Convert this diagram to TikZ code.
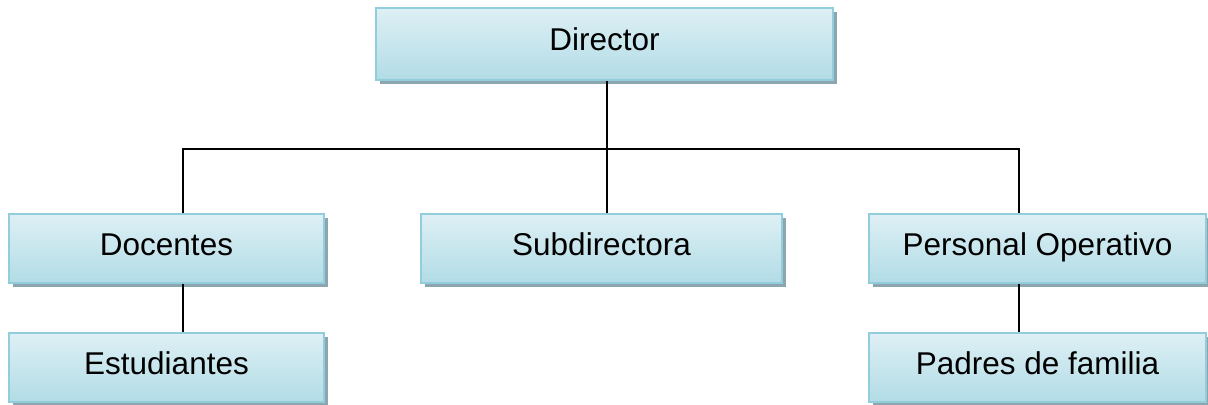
\documentclass[tikz,border=0pt]{standalone}
\usepackage{fontspec}
\setmainfont{Liberation Sans}
\usetikzlibrary{shadows}

\definecolor{boxline}{RGB}{146,205,220}
\definecolor{boxtop}{RGB}{222,240,245}
\definecolor{boxbot}{RGB}{178,220,230}
\definecolor{boxshadow}{RGB}{140,166,176}

\tikzset{
  box/.style = {shape=rectangle, draw=boxline, line width=1pt,
    top color=boxtop, bottom color=boxbot, inner sep=0pt,
    minimum height=34.5pt, text height=11.3pt, text depth=4pt,
    font=\fontsize{15.75}{19}\selectfont,
    drop shadow={shadow xshift=2pt, shadow yshift=-2pt,
      fill=boxshadow, opacity=1}},
  link/.style = {draw=black, line width=1pt}
}

\begin{document}
\begin{tikzpicture}[x=0.5pt, y=-0.5pt]
  \useasboundingbox (0,0) rectangle (1208,404);

  % boxes
  \node[box, minimum width=228.5pt, minimum height=36pt] (dir) at (604.5,43.5) {Director};
  \node[box, minimum width=157.5pt] (doc) at (166.5,248) {Docentes};
  \node[box, minimum width=180.5pt] (sub) at (601.5,248) {Subdirectora};
  \node[box, minimum width=168.5pt] (per) at (1037.5,248) {Personal Operativo};
  \node[box, minimum width=157.5pt] (est) at (166.5,367) {Estudiantes};
  \node[box, minimum width=168.5pt] (pad) at (1037.5,367) {Padres de familia};

  % connectors
  \coordinate (bus) at (607,149);
  \draw[link] ([xshift=1.25pt]dir.south) -- (bus);
  \draw[link] ([xshift=8.25pt]doc.north) |- (bus) -| ([xshift=-9.25pt]per.north);
  \draw[link] (bus) -- ([xshift=2.75pt]sub.north);
  \draw[link] ([xshift=8.25pt]doc.south) -- ([xshift=8.25pt]est.north);
  \draw[link] ([xshift=-9.25pt]per.south) -- ([xshift=-9.25pt]pad.north);
\end{tikzpicture}
\end{document}
